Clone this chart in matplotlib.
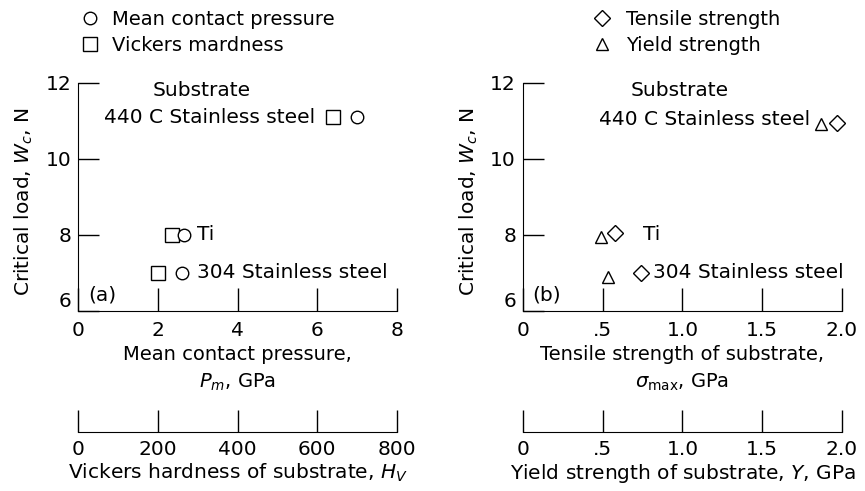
import matplotlib
matplotlib.use("Agg")
import matplotlib.pyplot as plt
import numpy as np
from matplotlib.lines import Line2D

plt.rcParams['font.family'] = ['DejaVu Sans']
plt.rcParams['mathtext.fontset'] = 'dejavusans'
plt.rcParams['font.size'] = 14

# Dados
substratos = ['440 C Stainless steel', 'Ti', '304 Stainless steel']
carga_critica = [11.1, 8.0, 7.0]          # N
pressao_media = [7.0, 2.65, 2.6]          # GPa
dureza_vickers = [640, 235, 200]          # Hv
carga_tensile = [10.95, 8.05, 7.0]
tensile = [1.97, 0.58, 0.74]              # GPa
carga_yield = [10.92, 7.95, 6.9]
yield_str = [1.87, 0.49, 0.535]           # GPa

ticks_a = [0, 2, 4, 6, 8]
ticks_hv = [0, 200, 400, 600, 800]
ticks_b = [0, 0.5, 1.0, 1.5, 2.0]
labels_b = ['0', '.5', '1.0', '1.5', '2.0']

FS = 14.5   # tamanho do texto dentro dos graficos
FT = 14.5   # tamanho dos numeros dos eixos

fig = plt.figure(figsize=(8.65, 4.91), dpi=100)

def estilo(ax, xlim, xticks, xlabels):
    ax.set_xlim(xlim)
    ax.set_ylim(6, 12)
    for s in ['top', 'right']:
        ax.spines[s].set_visible(False)
    ax.set_xticks(xticks)
    ax.set_xticklabels(xlabels)
    ax.set_yticks([6, 8, 10, 12])
    ax.tick_params(axis='x', direction='in', length=16.5, width=1, pad=7, labelsize=FT)
    ax.tick_params(axis='y', direction='in', length=15, width=1, pad=5, labelsize=FT)
    # o "6" fica um pouco acima do eixo, como no original
    ax.get_yticklabels()[0].set_verticalalignment('bottom')
    ax.set_ylabel(r'Critical load, $W_c$, N', fontsize=14.5)
    ax.yaxis.set_label_coords(-0.135, 0.48)

def eixo_extra(pos, xlim, xticks, xlabels, titulo):
    ax2 = fig.add_axes(pos)
    ax2.set_xlim(xlim)
    ax2.set_yticks([])
    for s in ['top', 'right', 'left']:
        ax2.spines[s].set_visible(False)
    ax2.patch.set_visible(False)
    ax2.set_xticks(xticks)
    ax2.set_xticklabels(xlabels)
    ax2.tick_params(axis='x', direction='in', length=16, width=1, pad=6, labelsize=FT)
    ax2.set_xlabel(titulo, fontsize=14.5, labelpad=2)
    return ax2

mk = dict(linestyle='none', markerfacecolor='white', markeredgecolor='black',
          markeredgewidth=1.0, clip_on=False)

# Painel (a)
ax1 = fig.add_axes([0.0902, 0.3666, 0.3688, 0.4644])
estilo(ax1, (0, 8), ticks_a, [str(t) for t in ticks_a])
ax1.plot(np.array(dureza_vickers) / 100, carga_critica, marker='s', markersize=9.5, **mk)
ax1.plot(pressao_media, carga_critica, marker='o', markersize=9, **mk)
ax1.set_xlabel('Mean contact pressure,\n' + r'$P_m$, GPa', fontsize=14, labelpad=4,
               linespacing=1.45)
ax1.text(3.1, 11.8, 'Substrate', ha='center', va='center', fontsize=FS)
ax1.text(5.95, 11.1, substratos[0], ha='right', va='center', fontsize=FS)
ax1.text(2.98, 8.0, substratos[1], ha='left', va='center', fontsize=FS)
ax1.text(2.98, 7.0, substratos[2], ha='left', va='center', fontsize=FS)
ax1.text(0.25, 6.42, '(a)', ha='left', va='center', fontsize=FS)
eixo_extra([0.0902, 0.12, 0.3688, 0.001], (0, 800), ticks_hv, [str(t) for t in ticks_hv],
           r'Vickers hardness of substrate, $H_V$')

# Painel (b)
ax3 = fig.add_axes([0.6046, 0.3666, 0.3688, 0.4644])
estilo(ax3, (0, 2), ticks_b, labels_b)
ax3.plot(yield_str, carga_yield, marker='^', markersize=8, **mk)
ax3.plot(tensile, carga_tensile, marker='D', markersize=8, **mk)
ax3.set_xlabel('Tensile strength of substrate,\n' + r'$\sigma_{\rm max}$, GPa', fontsize=14,
               labelpad=4, linespacing=1.45)
ax3.text(0.984, 11.8, 'Substrate', ha='center', va='center', fontsize=FS)
ax3.text(1.80, 11.05, substratos[0], ha='right', va='center', fontsize=FS)
ax3.text(0.752, 8.0, substratos[1], ha='left', va='center', fontsize=FS)
ax3.text(0.815, 7.0, substratos[2], ha='left', va='center', fontsize=FS)
ax3.text(0.056, 6.42, '(b)', ha='left', va='center', fontsize=FS)
eixo_extra([0.6046, 0.12, 0.3688, 0.001], (0, 2), ticks_b, labels_b,
           r'Yield strength of substrate, $Y$, GPa')

# Legendas
def marcador(m, ms):
    return Line2D([], [], marker=m, markersize=ms, linestyle='none',
                  markerfacecolor='white', markeredgecolor='black', markeredgewidth=1.0)

fig.legend([marcador('o', 9), marcador('s', 9.5)], ['Mean contact pressure', 'Vickers mardness'],
           loc='upper left', bbox_to_anchor=(0.073, 1.015), frameon=False, fontsize=14,
           handlelength=1.0, handletextpad=0.6, labelspacing=0.35)
fig.legend([marcador('D', 8), marcador('^', 8)], ['Tensile strength', 'Yield strength'],
           loc='upper left', bbox_to_anchor=(0.665, 1.015), frameon=False, fontsize=14,
           handlelength=1.0, handletextpad=0.7, labelspacing=0.35)

fig.savefig('out.png', dpi=100)
